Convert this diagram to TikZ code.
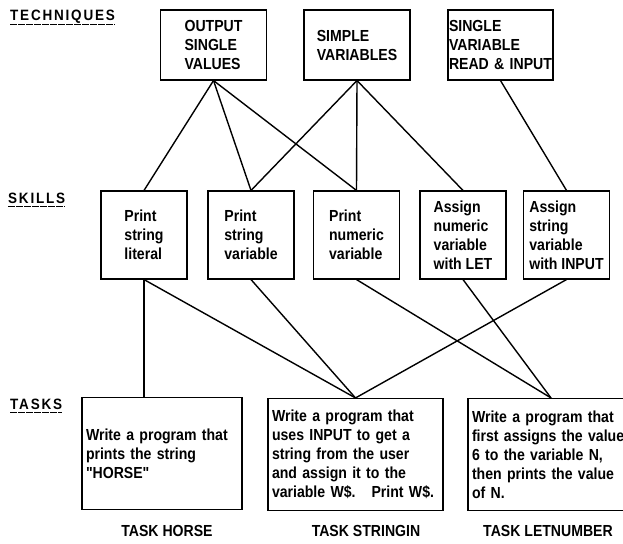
\documentclass[tikz,border=0pt]{standalone}
\usepackage{fontspec}
\setmainfont{Liberation Sans}[FakeStretch=0.88,Ligatures=TeXOff]
\newfontfamily\headfont{Liberation Sans}[FakeStretch=0.9,LetterSpace=12]
\usepackage{tikz}

\begin{document}
\begin{tikzpicture}[x=1pt,y=1pt,
  every node/.style={font=\fontsize{16}{19}\selectfont\bfseries},
  box/.style={draw,line width=1.1pt,inner sep=3pt},
  tech/.style={box,minimum width=106pt,minimum height=70pt,align=left},
  skill/.style={box,minimum width=86pt,minimum height=88pt,align=left},
  task/.style={box,minimum height=112pt,text width=#1,align=left,inner sep=4pt},
  tasklabel/.style={inner sep=0pt},
  link/.style={line width=1.4pt},
  head/.style={anchor=base west,inner sep=0pt,font=\fontsize{15}{18}\headfont\bfseries},
  uline/.style={line width=1.2pt,dash pattern=on 7pt off 1pt}]
  \useasboundingbox (0,0) rectangle (623,-543);
  \clip (0,0) rectangle (623,-543);

  % 見出し
  \node[head] (hTech) at (10,-21) {TECHNIQUES};
  \node[head] (hSkill) at (8,-203) {SKILLS};
  \node[head] (hTask) at (10,-409) {TASKS};
  \foreach \h in {hTech,hSkill,hTask}
    \draw[uline] ([yshift=-3.5pt]\h.base west) -- ([yshift=-3.5pt]\h.base east);

  % 技法
  \node[tech] (tOut) at (213.5,-45) {OUTPUT\\SINGLE\\VALUES};
  \node[tech] (tSimple) at (357,-45) {SIMPLE\\VARIABLES};
  \node[tech,minimum width=0pt,inner sep=1pt,text width=103pt] (tRead) at (500.5,-45) {SINGLE\\VARIABLE\\READ \& INPUT};

  % 技能
  \node[skill] (sLit) at (144,-235) {Print\\string\\literal};
  \node[skill] (sStrVar) at (251,-235) {Print\\string\\variable};
  \node[skill] (sNumVar) at (356.5,-235) {Print\\numeric\\variable};
  \node[skill] (sLet) at (463,-235) {Assign\\numeric\\variable\\with LET};
  \node[skill] (sInput) at (566.5,-235) {Assign\\string\\variable\\with INPUT};

  % 課題
  \node[task=152pt] (kHorse) at (162,-453.5) {Write a program that\\prints the string\\"HORSE"};
  \node[task=167pt] (kStringin) at (355.5,-454.5) {Write a program that\\uses INPUT to get a\\string from the user\\and assign it to the\\variable W\$.\quad Print W\$.};
  \node[task=158pt] (kLet) at (551,-454.5) {Write a program that\\first assigns the value\\6 to the variable N,\\then prints the value\\of N.};

  \node[tasklabel] (nHorse) at (167,-531) {TASK HORSE};
  \node[tasklabel] (nStringin) at (366,-531) {TASK STRINGIN};
  \node[tasklabel] (nLet) at (548,-531) {TASK LETNUMBER};

  % 技法と技能
  \draw[link] (tOut.south) -- (sLit.north);
  \draw[link] (tOut.south) -- (sStrVar.north);
  \draw[link] (tOut.south) -- (sNumVar.north);
  \draw[link] (tSimple.south) -- (sStrVar.north);
  \draw[link] (tSimple.south) -- (sNumVar.north);
  \draw[link] (tSimple.south) -- (sLet.north);
  \draw[link] (tRead.south) -- (sInput.north);

  % 技能と課題
  \draw[link] (sLit.south) -- (kHorse.north -| sLit.south);
  \draw[link] (sLit.south) -- (kStringin.north);
  \draw[link] (sStrVar.south) -- (kStringin.north);
  \draw[link] (sInput.south) -- (kStringin.north);
  \draw[link] (sNumVar.south) -- (kLet.north);
  \draw[link] (sLet.south) -- (kLet.north);
\end{tikzpicture}
\end{document}
